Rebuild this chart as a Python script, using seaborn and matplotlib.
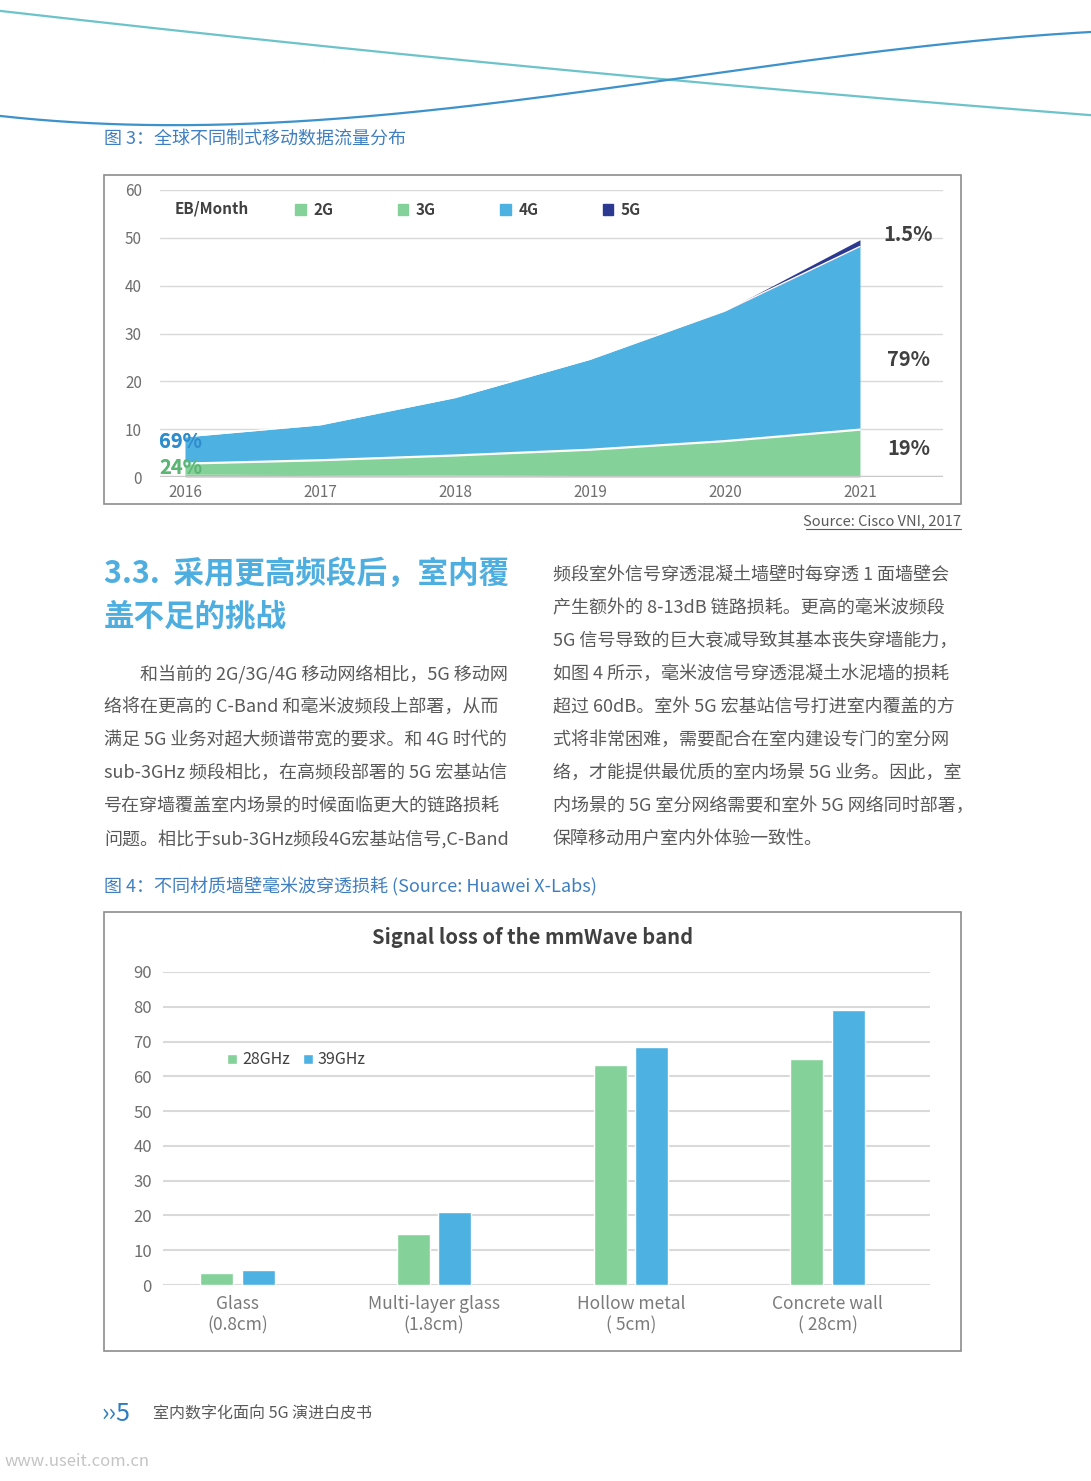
import matplotlib
matplotlib.use('Agg')
import matplotlib.pyplot as plt
from matplotlib.patches import Rectangle, Patch
import numpy as np
import pandas as pd
import seaborn as sns

W, H = 1091, 1481

# 图3：全球不同制式移动数据流量 (EB/Month)
years = [2016, 2017, 2018, 2019, 2020, 2021]
traffic_2g = [0.6, 0.5, 0.4, 0.3, 0.25, 0.2]
traffic_3g = [2.2, 3.0, 4.1, 5.4, 7.25, 9.7]
traffic_4g = [5.6, 7.4, 12.1, 18.9, 27.2, 38.3]
traffic_5g = [0.0, 0.0, 0.0, 0.0, 0.05, 1.4]
share_2016 = ['69%', '24%']
share_2021 = ['1.5%', '79%', '19%']

# 图4：不同材质墙壁毫米波穿透损耗 (dB)
materials = ['Glass\n(0.8cm)', 'Multi-layer glass\n(1.8cm)',
             'Hollow metal\n( 5cm)', 'Concrete wall\n( 28cm)']
bands = ['28GHz', '39GHz']
loss_28ghz = [3.5, 14.6, 63.2, 65.0]
loss_39ghz = [4.3, 21.0, 68.5, 79.2]

GREEN = '#85d19a'
BLUE = '#4db1e2'
NAVY = '#2b3990'
GRID = '#d9d9d9'
TXT = '#595959'
CAP = '#3f7fc0'

sns.set_style('white')
plt.rcParams['font.family'] = ['Noto Sans CJK SC', 'DejaVu Sans']

fig = plt.figure(figsize=(W / 100, H / 100), dpi=100)
fig.patch.set_facecolor('white')


def box(x0, y0, x1, y1):
    # pixel box -> figure fraction
    return [x0 / W, 1 - y1 / H, (x1 - x0) / W, (y1 - y0) / H]


# page layer in pixel coordinates
bg = fig.add_axes([0, 0, 1, 1], zorder=0)
bg.set_xlim(0, W)
bg.set_ylim(H, 0)
bg.axis('off')

# decorative curves at the top
xs = np.linspace(0, W, 300)
teal = np.polyfit([0, 545, 670, W], [11, 67, 81, 115], 2)
bg.plot(xs, np.polyval(teal, xs), color='#6cc3c9', lw=1.6)
wave = np.polyfit([0, 160, 545, 670, 893, W], [117, 123, 98, 81, 47, 33], 3)
bg.plot(xs, np.polyval(wave, xs), color='#3d92cb', lw=1.6)

bg.text(104, 139, '图 3：全球不同制式移动数据流量分布', fontsize=13, color=CAP,
        va='center')
bg.add_patch(Rectangle((104, 175), 857, 329, fill=False, edgecolor='#8c8c8c', lw=1.2))
bg.text(961, 521, 'Source: Cisco VNI, 2017', fontsize=10.5, style='italic',
        color=TXT, ha='right', va='center')
bg.plot([806, 961], [529, 529], color=TXT, lw=0.8)

# section heading
bg.text(104, 574, '3.3.  采用更高频段后，室内覆', fontsize=22, weight='bold',
        color='#4eaee0', va='center')
bg.text(104, 617, '盖不足的挑战', fontsize=22, weight='bold',
        color='#4eaee0', va='center')

left_lines = [
    '和当前的 2G/3G/4G 移动网络相比，5G 移动网',
    '络将在更高的 C-Band 和毫米波频段上部署，从而',
    '满足 5G 业务对超大频谱带宽的要求。和 4G 时代的',
    'sub-3GHz 频段相比，在高频段部署的 5G 宏基站信',
    '号在穿墙覆盖室内场景的时候面临更大的链路损耗',
    '问题。相比于sub-3GHz频段4G宏基站信号,C-Band',
]
right_lines = [
    '频段室外信号穿透混凝土墙壁时每穿透 1 面墙壁会',
    '产生额外的 8-13dB 链路损耗。更高的毫米波频段',
    '5G 信号导致的巨大衰减导致其基本丧失穿墙能力，',
    '如图 4 所示，毫米波信号穿透混凝土水泥墙的损耗',
    '超过 60dB。室外 5G 宏基站信号打进室内覆盖的方',
    '式将非常困难，需要配合在室内建设专门的室分网',
    '络，才能提供最优质的室内场景 5G 业务。因此，室',
    '内场景的 5G 室分网络需要和室外 5G 网络同时部署，',
    '保障移动用户室内外体验一致性。',
]
for i, line in enumerate(left_lines):
    bg.text(140 if i == 0 else 104, 674 + 33 * i, line, fontsize=13,
            color=TXT, va='center')
for i, line in enumerate(right_lines):
    bg.text(553, 575 + 33 * i, line, fontsize=13, color=TXT, va='center')

bg.text(104, 887, '图 4：不同材质墙壁毫米波穿透损耗 (Source: Huawei X-Labs)',
        fontsize=13, color=CAP, va='center')
bg.add_patch(Rectangle((104, 912), 857, 439, fill=False, edgecolor='#8c8c8c', lw=1.2))
bg.text(533, 937, 'Signal loss of the mmWave band', fontsize=14.5, weight='bold',
        color='#404040', ha='center', va='center')

# footer
bg.text(102, 1414, '››5', fontsize=18, color='#2e7dc0', va='center')
bg.text(153, 1414, '室内数字化面向 5G 演进白皮书', fontsize=11.5, color=TXT, va='center')
bg.text(5, 1462, 'www.useit.com.cn', fontsize=12, style='italic', color='#c4c4c4',
        va='center')

# ---------- chart 1: stacked area ----------
ax1 = fig.add_axes(box(160, 190, 943, 477), zorder=1)
ax1.set_facecolor('none')
c2 = np.array(traffic_2g)
c3 = c2 + np.array(traffic_3g)
c4 = c3 + np.array(traffic_4g)
c5 = c4 + np.array(traffic_5g)
ax1.fill_between(years, 0, c2, color=GREEN, lw=0)
green_area = ax1.fill_between(years, c2, c3, color=GREEN, lw=0)
blue_area = ax1.fill_between(years, c3, c4, color=BLUE, lw=0)
ax1.fill_between(years, c4, c5, color=NAVY, lw=0)
sns.lineplot(x=years, y=c3, color='white', lw=1.6, ax=ax1)
sns.lineplot(x=years, y=c4, color='white', lw=1.0, ax=ax1)
ax1.axhline(0, color='#c8c8c8', lw=2.5, zorder=3)

ax1.set_xlim(2015.815, 2021.615)
ax1.set_ylim(0, 60)
ax1.set_xticks(years)
ax1.set_yticks(range(0, 61, 10))
ax1.tick_params(length=0, labelsize=11, colors='#6e6e6e')
ax1.tick_params(axis='y', pad=13)
ax1.tick_params(axis='x', pad=5)
ax1.set_axisbelow(True)
ax1.yaxis.grid(True, color=GRID, lw=1)
ax1.xaxis.grid(False)
for s in ax1.spines.values():
    s.set_visible(False)

# left shares: light colour, darker where the text sits on its own area
for lbl, yv, light, dark, area in [(share_2016[0], 7.5, BLUE, '#2f8ccc', blue_area),
                                   (share_2016[1], 2.0, GREEN, '#5cb574', green_area)]:
    ax1.text(2015.97, yv, lbl, color=light, fontsize=14.5, weight='bold',
             ha='center', va='center', zorder=4)
    t2 = ax1.text(2015.97, yv, lbl, color=dark, fontsize=14.5, weight='bold',
                  ha='center', va='center', zorder=5)
    t2.set_clip_path(area.get_paths()[0], ax1.transData)

for lbl, yv in zip(share_2021, [50.8, 24.5, 5.9]):
    ax1.text(2021.36, yv, lbl, color='#404040', fontsize=14.5, weight='bold',
             ha='center', va='center')

bg.text(175, 209, 'EB/Month', fontsize=11, weight='bold', color='#404040', va='center')
ax1.legend([Patch(color=GREEN), Patch(color=GREEN), Patch(color=BLUE), Patch(color=NAVY)],
           ['2G', '3G', '4G', '5G'], ncol=4, loc='center left',
           bbox_to_anchor=(295 / W, 1 - 210 / H), bbox_transform=fig.transFigure,
           frameon=False, borderpad=0, borderaxespad=0, handlelength=0.7,
           handleheight=0.7, handletextpad=0.5, columnspacing=4.2,
           prop={'weight': 'bold', 'size': 11}, labelcolor='#404040')

# ---------- chart 2: grouped bars ----------
ax2 = fig.add_axes(box(163, 972, 930, 1285), zorder=1)
ax2.set_facecolor('none')
df = pd.DataFrame({
    'material': materials * 2,
    'band': [bands[0]] * 4 + [bands[1]] * 4,
    'loss': loss_28ghz + loss_39ghz,
})
sns.barplot(data=df, x='material', y='loss', hue='band', palette=[GREEN, BLUE],
            width=0.42, gap=0.2, saturation=1, ax=ax2)
ax2.set_xlim(-0.379, 3.521)
ax2.set_ylim(0, 90)
ax2.set_yticks(range(0, 91, 10))
ax2.set_xlabel('')
ax2.set_ylabel('')
ax2.tick_params(axis='y', length=0, labelsize=12, colors='#6e6e6e', pad=8)
ax2.tick_params(axis='x', length=0, labelsize=12.5, colors='#7a7a7a', pad=7)
for lbl in ax2.get_xticklabels():
    lbl.set_linespacing(1.25)
ax2.set_axisbelow(True)
ax2.yaxis.grid(True, color=GRID, lw=1.5)
ax2.axhline(0, color='#c8c8c8', lw=2, zorder=0.5)
for s in ax2.spines.values():
    s.set_visible(False)

h, l = ax2.get_legend_handles_labels()
ax2.legend(h, l, ncol=2, loc='center left',
           bbox_to_anchor=(227 / W, 1 - 1060 / H), bbox_transform=fig.transFigure,
           frameon=False, borderpad=0, borderaxespad=0, handlelength=0.65,
           handleheight=0.65, handletextpad=0.3, columnspacing=0.8,
           fontsize=11.5, labelcolor='#404040')

fig.savefig('out.png', dpi=100)
